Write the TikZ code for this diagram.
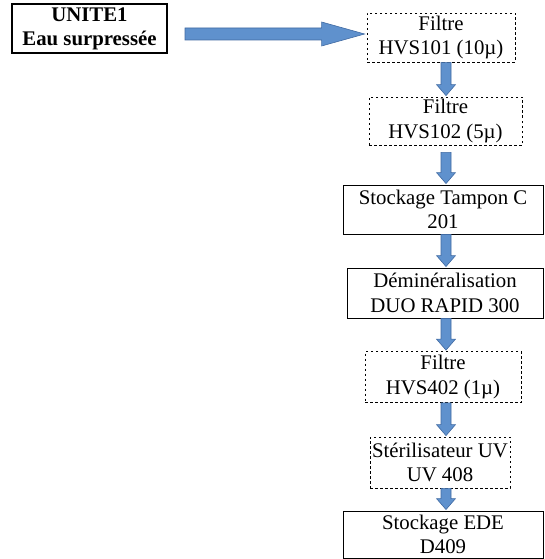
\documentclass[tikz,border=0pt]{standalone}
\usepackage{fontspec}
\setmainfont{Liberation Serif}
\usetikzlibrary{calc}
\definecolor{flowfill}{RGB}{95,145,205}
\definecolor{flowedge}{RGB}{64,106,162}
\begin{document}
\begin{tikzpicture}[x=1pt,y=-1pt,
  box/.style={rectangle, draw=black, line width=0.9pt, inner sep=0pt, align=center,
    font=\fontsize{20.8}{24.5}\selectfont},
  dashbox/.style={box, line width=0.8pt, dash pattern=on 2.5pt off 2.5pt},
  srcbox/.style={box, line width=1.8pt, font=\fontsize{20.8}{24}\selectfont\bfseries},
  % downward block arrow: shaft 10pt, head 19pt wide and 11pt long
  flow/.style={fill=flowfill, draw=flowedge, line width=0.6pt,
    to path={let \p1=(\tikztostart), \p2=(\tikztotarget) in
      (\x1-5pt,\y1) -- (\x1+5pt,\y1) -- (\x1+5pt,\y2+11pt) -- (\x1+9.5pt,\y2+11pt)
      -- (\x1,\y2) -- (\x1-9.5pt,\y2+11pt) -- (\x1-5pt,\y2+11pt) -- cycle}},
  % rightward block arrow: shaft 12pt, head 24pt wide and 43pt long
  bigflow/.style={fill=flowfill, draw=flowedge, line width=0.6pt,
    to path={let \p1=(\tikztostart), \p2=(\tikztotarget) in
      (\x1,\y1+6pt) -- (\x2-43pt,\y1+6pt) -- (\x2-43pt,\y1+12pt) -- (\x2,\y1)
      -- (\x2-43pt,\y1-12pt) -- (\x2-43pt,\y1-6pt) -- (\x1,\y1-6pt) -- cycle}}]
  \useasboundingbox (0,0) rectangle (544,559);

  % source and treatment chain
  \node[srcbox, minimum width=155pt, minimum height=49pt] (unite) at (89.5,28.5)
    {UNITE1\\Eau surpressée};
  \node[dashbox, minimum width=148pt, minimum height=49pt] (f101) at (441,37.5)
    {Filtre\\HVS101 (10µ)};
  \node[dashbox, minimum width=153pt, minimum height=48pt] (f102) at (445.5,121)
    {Filtre\\HVS102 (5µ)};
  \node[box, minimum width=200pt, minimum height=49pt] (tampon) at (443,209.5)
    {Stockage Tampon C\\201};
  \node[box, minimum width=196pt, minimum height=50pt] (demin) at (445,293)
    {Déminéralisation\\DUO RAPID 300};
  \node[dashbox, minimum width=156pt, minimum height=51pt] (f402) at (443,377)
    {Filtre\\HVS402 (1µ)};
  \node[dashbox, minimum width=140pt, minimum height=51pt] (steril) at (440,462.5)
    {Stérilisateur UV\\UV 408};
  \node[box, minimum width=200pt, minimum height=47pt] (ede) at (443,534.5)
    {Stockage EDE\\D409};

  % block arrows
  \coordinate (srcend) at (185,34);
  \coordinate (ax) at (446,0);
  \draw[bigflow] (srcend) to ([xshift=-2pt]srcend -| f101.west);
  \draw[flow] (ax |- f101.south) to ([yshift=1pt]ax |- f102.north);
  \draw[flow] ([yshift=-7pt]ax |- f102.south) to ([yshift=1pt]ax |- tampon.north);
  \draw[flow] (ax |- tampon.south) to ([yshift=1pt]ax |- demin.north);
  \draw[flow] (ax |- demin.south) to ([yshift=1pt]ax |- f402.north);
  \draw[flow] (ax |- f402.south) to ([yshift=1pt]ax |- steril.north);
  \draw[flow] (ax |- steril.south) to ([yshift=1pt]ax |- ede.north);
\end{tikzpicture}
\end{document}
